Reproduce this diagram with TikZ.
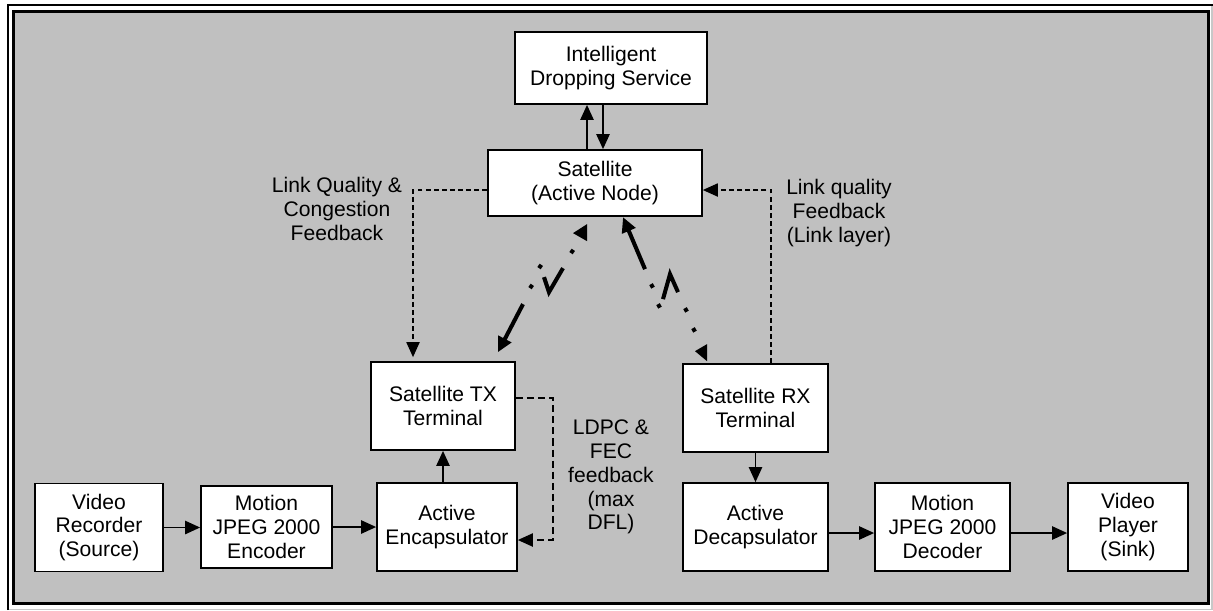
\documentclass[tikz,border=0pt]{standalone}
\usepackage{fontspec}
\setmainfont{Liberation Sans}
\usetikzlibrary{arrows.meta,calc}
\definecolor{panelgray}{RGB}{192,192,192}
\definecolor{rimgray}{RGB}{200,200,200}

\begin{document}
\begin{tikzpicture}[x=0.02cm,y=-0.02cm,
  every node/.style={font=\fontsize{12}{13.6}\selectfont,align=center},
  block/.style={draw,fill=white,line width=1pt,inner sep=0pt,minimum height=1.76cm},
  flow/.style={line width=1pt,-{Triangle[length=8.5pt,width=7.5pt]}},
  fb/.style={line width=0.7pt,dash pattern=on 2.8pt off 1.8pt,-{Triangle[length=8.5pt,width=7.5pt]}},
  fbl/.style={line width=0.8pt,dash pattern=on 4pt off 2.3pt,-{Triangle[length=8.5pt,width=7.5pt]}},
  radio/.style={line width=2.3pt}]
\useasboundingbox (0,0) rectangle (1213,610);
% Frame
\fill[white] (0,0) rectangle (1213,610);
\draw[rimgray,line width=1pt] (1212,5) -- (1212,609.5) -- (7.7,609.5);
\draw[line width=1.1pt] (7.7,610) -- (7.7,5) -- (1213,5);
\draw[line width=1.9pt,fill=panelgray] (13.5,11.7) rectangle (1208.5,603.5);

% Blocks
\node[block,minimum width=3.84cm,minimum height=1.44cm] (ids) at (611,68) {Intelligent\\Dropping Service};
\node[block,minimum width=4.28cm,minimum height=1.32cm] (sat) at (595,183) {Satellite\\(Active Node)};
\node[block,minimum width=2.88cm] (tx) at (443,406) {Satellite TX\\Terminal};
\node[block,minimum width=2.90cm] (rx) at (755.5,408) {Satellite RX\\Terminal};
\node[block,minimum width=2.56cm] (rec) at (99,527.5) {Video\\Recorder\\(Source)};
\node[block,minimum width=2.62cm,minimum height=1.64cm] (jenc) at (266.5,527) {Motion\\JPEG 2000\\Encoder};
\node[block,minimum width=2.80cm] (enc) at (447,527) {Active\\Encapsulator};
\node[block,minimum width=2.90cm] (dec) at (755.5,527) {Active\\Decapsulator};
\node[block,minimum width=2.70cm] (jdec) at (942.5,527) {Motion\\JPEG 2000\\Decoder};
\node[block,minimum width=2.40cm] (play) at (1128,527) {Video\\Player\\(Sink)};

% Labels
\node (lqc) at (337,209) {Link Quality \&\\Congestion\\Feedback};
\node (lql) at (839,213) {Link quality\\Feedback\\(Link layer)};
\node (ldpc) at (611,477) {LDPC \&\\FEC\\feedback\\(max\\DFL)};

% Data path
\draw[flow] ($(sat.north)+(-8,0)$) coordinate (s1) -- (s1 |- ids.south);
\draw[flow] ($(ids.south)+(-8,0)$) coordinate (i1) -- (i1 |- sat.north);
\draw[flow] ($(enc.north)+(-4,0)$) coordinate (e1) -- (e1 |- tx.south);
\draw[flow] (rx.south) -- (dec.north);
\draw[flow] (rec.east) -- (rec.east -| jenc.west);
\draw[flow] (jenc.east) -- (jenc.east -| enc.west);
\draw[flow] ($(dec.east)+(0,6)$) coordinate (d1) -- (d1 -| jdec.west);
\draw[flow] ($(jdec.east)+(0,6)$) coordinate (d2) -- (d2 -| play.west);

% Feedback
\draw[fb] ($(sat.west)+(0,7)$) -| ($(tx.north)+(-30,-4)$);
\draw[fb] ($(rx.north)+(15.5,0)$) |- ($(sat.east)+(0,7)$);
\draw[fbl] ($(tx.east)+(0,-8)$) -- ++(37,0) |- ($(enc.east)+(0,13)$);

% Uplink
\begin{scope}[shift={(tx.north)}]
\draw[radio,{Triangle[length=8.5pt,width=8pt]}-] (55,-9) -- (80,-57);
\draw[radio] (87,-73) -- ++(2.3,-3.3);
\draw[radio] (96,-93) -- ++(2.3,-3.3);
\draw[radio] (101,-84) -- (106,-69) -- (120,-93);
\draw[radio] (128,-108) -- ++(2.3,-3.3);
\fill (130,-128) -- (144,-137) -- (144,-120) -- cycle;
\end{scope}

% Downlink
\begin{scope}[shift={(rx.north)}]
\draw[radio,-{Triangle[length=8.5pt,width=8pt]}] (-110.5,-94) -- (-132.5,-146);
\draw[radio] (-104.5,-79) -- ++(2,3.5);
\draw[radio] (-92.5,-64) -- (-85.5,-89) -- (-77.5,-71);
\draw[radio] (-97.5,-59) -- ++(2,3.5);
\draw[radio] (-70.5,-55) -- ++(2,3.5);
\draw[radio] (-62.5,-35) -- ++(2,3.5);
\fill (-60.5,-12) -- (-48.5,-19) -- (-48.5,-2) -- cycle;
\end{scope}
\end{tikzpicture}
\end{document}
